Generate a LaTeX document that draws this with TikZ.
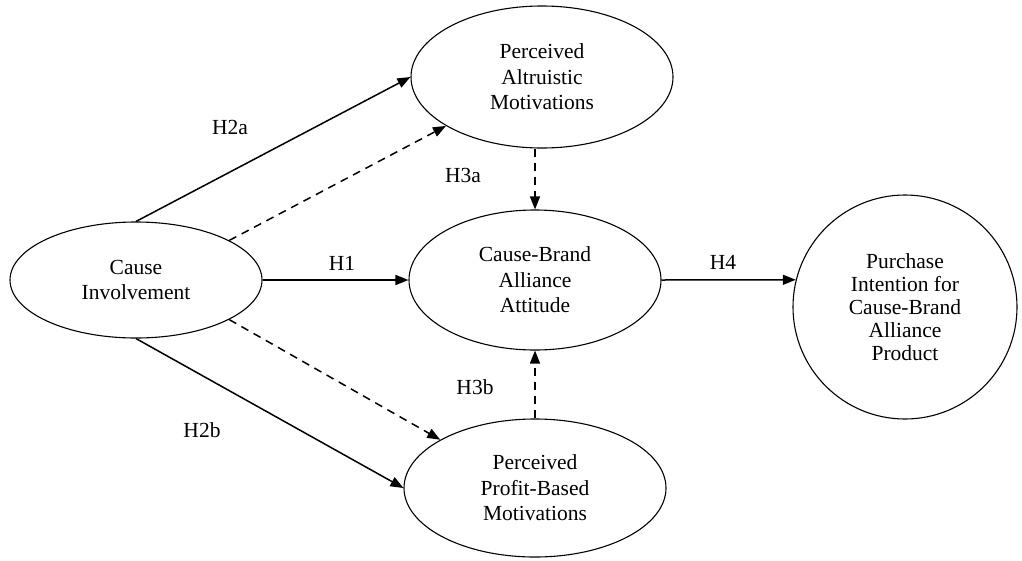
\documentclass[tikz,border=0pt]{standalone}
\usepackage{fontspec}
\setmainfont{Liberation Serif}
\usetikzlibrary{shapes.geometric,arrows.meta}
\begin{document}
\begin{tikzpicture}[x=1pt,y=-1pt,
  every node/.style={font=\fontsize{21.5}{25.5}\selectfont},
  oval/.style={ellipse,draw,line width=1.1pt,inner sep=0pt,align=center},
  circ/.style={circle,draw,line width=1.1pt,inner sep=0pt,align=center,minimum size=224pt,font=\fontsize{21.5}{23}\selectfont},
  solidarrow/.style={line width=1.5pt,-{Triangle[length=13pt,width=10pt]}},
  dasharrow/.style={line width=1.5pt,dash pattern=on 8pt off 6pt,-{Triangle[length=13pt,width=10pt]}},
  lbl/.style={inner sep=0pt}]
\useasboundingbox (0,0) rectangle (1022,560);
\node[oval,minimum width=252pt,minimum height=116pt] (ci) at (136,280) {Cause\\Involvement};
\node[oval,minimum width=262pt,minimum height=142pt] (pa) at (542,77) {\raisebox{-4pt}{\parbox{150pt}{\centering Perceived\\Altruistic\\Motivations}}};
\node[oval,minimum width=252pt,minimum height=140pt] (cb) at (535,280) {Cause-Brand\\Alliance\\Attitude};
\node[oval,minimum width=262pt,minimum height=138pt] (pp) at (535,488) {Perceived\\Profit-Based\\Motivations};
\node[circ] (pi) at (905,307) {Purchase\\Intention for\\Cause-Brand\\Alliance\\Product};
\draw[solidarrow] (ci.north) -- (pa.west);
\draw[dasharrow] (ci.23.6) -- (pa.207.5);
\draw[solidarrow] (ci.east) -- (cb.west);
\draw[dasharrow] (ci.-23) -- (pp.153);
\draw[solidarrow] (ci.south) -- (pp.west);
\draw[dasharrow] (pa.south -| cb.north) -- (cb.north);
\draw[dasharrow] (pp.north) -- (cb.south);
\draw[solidarrow] (cb.east) -- (pi.166);
\node[lbl] (h2a) at (230,127) {H2a};
\node[lbl] (h3a) at (463,175) {H3a};
\node[lbl] (h1) at (342,263) {H1};
\node[lbl] (h4) at (723,262) {H4};
\node[lbl] (h3b) at (475,387) {H3b};
\node[lbl] (h2b) at (202,430) {H2b};
\end{tikzpicture}
\end{document}
